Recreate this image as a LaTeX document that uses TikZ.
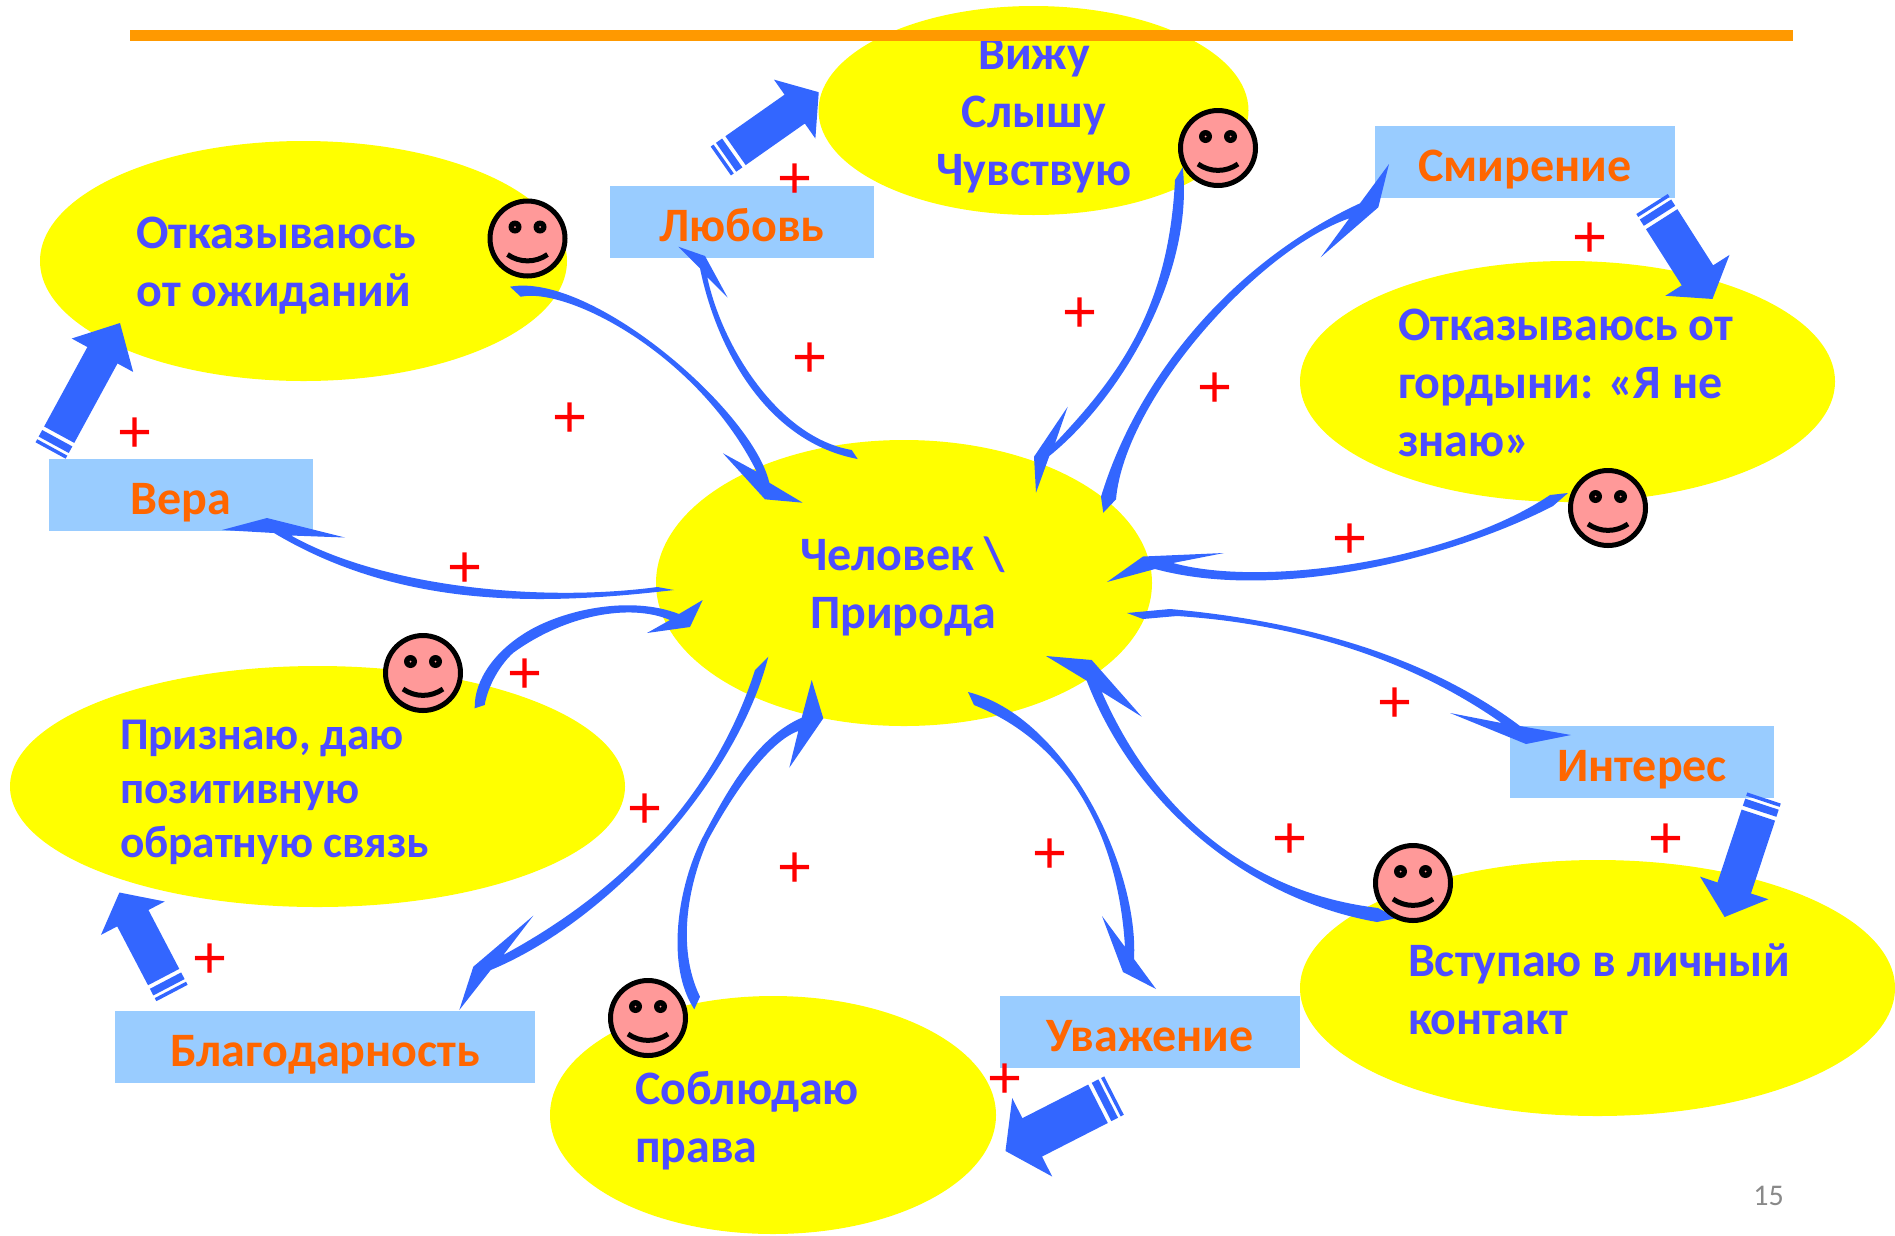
\documentclass[tikz,border=0pt]{standalone}
\usepackage{fontspec}
\setmainfont{Carlito}
\newfontfamily\plusfont{Liberation Sans}
\usepackage{xcolor}
\usetikzlibrary{shapes.geometric, positioning, calc}
\definecolor{flowblue}{HTML}{3366FF}
\definecolor{textblue}{HTML}{4D4DFF}
\definecolor{textorange}{HTML}{FF6600}
\definecolor{boxblue}{HTML}{99CCFF}
\definecolor{barorange}{HTML}{FF9900}
\definecolor{facepink}{HTML}{FF9999}
\definecolor{ovalyellow}{RGB}{255,255,0}
\definecolor{plusred}{RGB}{255,0,0}
\definecolor{pagegray}{HTML}{898989}
\tikzset{
  oval/.style={ellipse, fill=ovalyellow, inner sep=0pt, outer sep=0pt},
  virtue/.style={rectangle, fill=boxblue, inner sep=0pt, outer sep=0pt, text=textorange,
    font=\fontsize{48}{58}\selectfont\bfseries, text height=49pt, text depth=10pt},
  say/.style={text=textblue, inner sep=0pt, outer sep=0pt, align=left, anchor=base west,
    font=\fontsize{48}{58}\selectfont\bfseries},
  plusmark/.style={text=plusred, inner sep=0pt, yshift=-3.5pt, font=\fontsize{60}{60}\selectfont\plusfont},
  curvefill/.style={fill=flowblue},
  pics/smiley/.style={code={
    \node[circle, draw=black, fill=facepink, line width=5pt, minimum size=75pt, inner sep=0pt] (-disc) at (0,0) {};
    \fill[black] (-12.5,-11.5) circle[radius=6.5pt] (12.5,-11.5) circle[radius=6.5pt];
    \fill[facepink] (-12.5,-11.5) circle[radius=1pt] (12.5,-11.5) circle[radius=1pt];
    \draw[black, line width=5pt] (-20,16) .. controls (-8,24.5) and (8,24.5) .. (20,16);
  }},
  pics/stripebody/.style n args={3}{code={
    \pgfmathsetmacro\barLen{#1}
    \pgfmathsetmacro\neckAt{\barLen-#2}
    \pgfmathsetmacro\shaftHalf{0.49*#3}
    \fill[flowblue] (0,-\shaftHalf) rectangle (3.5,\shaftHalf);
    \fill[flowblue] (6.5,-\shaftHalf) rectangle (14,\shaftHalf);
    \fill[flowblue] (18,-\shaftHalf) -- (\neckAt,-\shaftHalf) -- (\neckAt,-#3) -- (\barLen,0)
      -- (\neckAt,#3) -- (\neckAt,\shaftHalf) -- (18,\shaftHalf) -- cycle;
  }}
}
\newcommand{\stripearrow}[4]{%
  \path let \p1=($(#2)-(#1)$), \n1={atan2(\y1,\x1)}, \n2={veclen(\x1,\y1)} in
    pic[rotate=\n1] at (#1) {stripebody={\n2}{#3}{#4}};}
\begin{document}
\begin{tikzpicture}[x=1pt, y=-1pt]
  \useasboundingbox (0,0) rectangle (1895,1235);

  \node[oval, minimum width=527pt, minimum height=240pt] (expect) at (303.5,261) {};
  \node[oval, minimum width=430pt, minimum height=209pt] (sense) at (1033.5,110.5) {};
  \node[oval, minimum width=535pt, minimum height=241pt] (pride) at (1567.5,381.5) {};
  \node[oval, minimum width=496pt, minimum height=286pt] (human) at (904,583) {};
  \node[oval, minimum width=615pt, minimum height=241pt] (praise) at (317.5,786.5) {};
  \node[oval, minimum width=446pt, minimum height=238pt] (rights) at (773,1115) {};
  \node[oval, minimum width=595pt, minimum height=256pt] (contact) at (1597.5,988) {};

  \node[virtue, minimum width=264pt, minimum height=72pt] (faith) at (181,495) {Вера};
  \node[virtue, minimum width=264pt, minimum height=72pt] (love) at (742,221.5) {Любовь};
  \node[virtue, minimum width=300pt, minimum height=72pt] (humility) at (1525,162) {Смирение};
  \node[virtue, minimum width=264pt, minimum height=72pt] (interest) at (1642,762) {Интерес};
  \node[virtue, minimum width=300pt, minimum height=72pt] (respect) at (1150,1031.5) {Уважение};
  \node[virtue, minimum width=420pt, minimum height=72pt] (thanks) at (325,1047) {Благодарность};

  \node[say] (expectText) at (136.5,306) {Отказываюсь\\от ожиданий};
  \node[say, align=center, anchor=base] (senseText) at (1034,185.5) {Вижу\\Слышу\\Чувствую};
  \node[say] (prideText) at (1398,456) {Отказываюсь от\\гордыни: «Я не\\знаю»};
  \node[say, align=center, anchor=base] (humanText) at (903,628) {Человек \textbackslash\\Природа};
  \node[say, font=\fontsize{45.4}{54}\selectfont\bfseries] (praiseText) at (120,857) {Признаю, даю\\позитивную\\обратную связь};
  \node[say] (rightsText) at (635,1162) {Соблюдаю\\права};
  \node[say] (contactText) at (1408,1034) {Вступаю в личный\\контакт};

  \coordinate (faithOut) at (50.6,450.5);
  \coordinate (expectIn) at (120,323);
  \stripearrow{faithOut}{expectIn}{36.7}{35}
  \coordinate (loveOut) at (720.8,161);
  \coordinate (senseIn) at (819,92);
  \stripearrow{loveOut}{senseIn}{29.4}{36}
  \coordinate (humilityOut) at (1652,204);
  \coordinate (prideIn) at (1712.5,299);
  \stripearrow{humilityOut}{prideIn}{28}{38}
  \coordinate (interestOut) at (1764,798);
  \coordinate (contactIn) at (1724.6,917);
  \stripearrow{interestOut}{contactIn}{30.6}{36}
  \coordinate (respectOut) at (1114,1095.6);
  \coordinate (rightsIn) at (1005.5,1151);
  \stripearrow{respectOut}{rightsIn}{30}{44}
  \coordinate (thanksOut) at (172,993);
  \coordinate (praiseIn) at (119.4,892.5);
  \stripearrow{thanksOut}{praiseIn}{29}{36}

  \coordinate (expectOut) at (510,286.7);
  \coordinate (humanFromExpect) at (802.7,502.7);
  \fill[curvefill] (expectOut) .. controls (591.9,271.9) and (752.9,410.9) .. (769.3,482.7)
    -- (humanFromExpect) -- (765,499.3) -- (723,453.3)
    -- (756.7,471.7) .. controls (698,354.3) and (568.3,287.1) .. (520.7,296.7) -- cycle;

  \coordinate (humanToLove) at (857.7,459);
  \coordinate (loveIn) at (678.3,246.7);
  \fill[curvefill] (humanToLove) .. controls (766.6,441.9) and (716.6,349.4) .. (700,268.3)
    -- (loveIn) -- (705,256) -- (727.7,297.7)
    -- (707.3,277.3) .. controls (722,346.4) and (778.5,437.4) .. (851.7,450) -- cycle;

  \coordinate (humanToFaith) at (674,590);
  \coordinate (faithIn) at (222,530);
  \fill[curvefill] (humanToFaith) .. controls (542.2,605.5) and (401.3,609) .. (274,533)
    -- (faithIn) -- (267,518) -- (345,537.5)
    -- (291,535.5) .. controls (381.7,586.4) and (539,602.8) .. (657.5,587) -- cycle;

  \coordinate (senseOut) at (1182.7,167.3);
  \coordinate (humanFromSense) at (1036,492.7);
  \fill[curvefill] (senseOut) .. controls (1194.2,269.5) and (1124.8,394.9) .. (1049.3,456)
    -- (humanFromSense) -- (1034,456.7) -- (1067.7,406.7)
    -- (1055,443.3) .. controls (1119.9,374.6) and (1168.6,308.3) .. (1175,180) -- cycle;

  \coordinate (humanToHumility) at (1103.3,512.7);
  \coordinate (humilityIn) at (1389,164);
  \fill[curvefill] (humanToHumility) -- (1101,496.7) .. controls (1136.3,379.9) and (1230.2,263.2) .. (1360,203.3)
    -- (humilityIn) -- (1378.3,207.3) -- (1320.7,257.3)
    -- (1349.3,218.3) .. controls (1257.6,250) and (1124.8,399.2) .. (1116,499.3) -- cycle;

  \coordinate (prideOut) at (1568,493);
  \coordinate (humanFromPride) at (1107,582);
  \fill[curvefill] (prideOut) -- (1553,506) .. controls (1451.8,558.5) and (1277.2,602) .. (1155,569)
    -- (humanFromPride) -- (1143,556.5) -- (1224,553)
    -- (1173,563) .. controls (1264.2,588.3) and (1454.3,559.7) .. (1550,495) -- cycle;

  \coordinate (humanToInterest) at (1127,613);
  \coordinate (interestIn) at (1571,735);
  \fill[curvefill] (humanToInterest) -- (1170,609) .. controls (1286.7,619.5) and (1418.3,649.5) .. (1520,726)
    -- (interestIn) -- (1526,744) -- (1450,713)
    -- (1501.5,723) .. controls (1406.1,655.8) and (1289.7,623.2) .. (1177,616) -- (1143,619) -- cycle;

  \coordinate (contactOut) at (1397,918);
  \coordinate (humanFromContact) at (1046,656);
  \fill[curvefill] (contactOut) -- (1377,922) .. controls (1251.7,900.1) and (1135.9,808.1) .. (1086.7,680.7)
    -- (humanFromContact) -- (1091.7,660) -- (1141.7,716.7)
    -- (1101.7,691.7) .. controls (1156.7,816.8) and (1252.9,892.9) .. (1378,908) -- cycle;

  \coordinate (humanToRespect) at (968,692);
  \coordinate (respectIn) at (1156,989);
  \fill[curvefill] (humanToRespect) .. controls (1067,717) and (1139,869) .. (1134,959)
    -- (respectIn) -- (1123,972) -- (1102,916)
    -- (1125,947) .. controls (1118.5,839) and (1071.5,744) .. (974,705) -- cycle;

  \coordinate (rightsOut) at (694.3,1009.3);
  \coordinate (humanFromRights) at (811.7,680);
  \fill[curvefill] (rightsOut) .. controls (665,965) and (678,885) .. (703,836.7)
    .. controls (725,795) and (755,738) .. (801.7,717.7)
    -- (humanFromRights) -- (823.3,718.3) -- (789.3,767.7)
    -- (798.3,731) .. controls (770,741) and (735,790) .. (708,840)
    .. controls (690,880) and (675,945) .. (700,996.7) -- cycle;

  \coordinate (humanToThanks) at (768.3,656.7);
  \coordinate (thanksIn) at (459.3,1010);
  \fill[curvefill] (humanToThanks) .. controls (738.3,776.6) and (612.2,919.6) .. (490.7,970)
    -- (thanksIn) -- (473.3,966.7) -- (533.3,915.7)
    -- (503.3,955) .. controls (621.3,891.5) and (714.6,796.5) .. (755,670) -- cycle;

  \coordinate (praiseOut) at (474.7,708.3);
  \coordinate (humanFromPraise) at (702.7,600);
  \fill[curvefill] (praiseOut) .. controls (474,680) and (495,650) .. (530,630)
    .. controls (565,610) and (630,595) .. (679,614)
    -- (humanFromPraise) -- (690,627) -- (647,633)
    -- (670,620) .. controls (630,603) and (565,615) .. (513,653)
    .. controls (497,668) and (487,690) .. (484.7,705) -- cycle;

  \pic (faceExpect) at (527.5,238.5) {smiley};
  \pic (faceSense) at (1218,148) {smiley};
  \pic (facePride) at (1608,508) {smiley};
  \pic (facePraise) at (423,673) {smiley};
  \pic (faceRights) at (648,1018) {smiley};
  \pic (faceContact) at (1413,883) {smiley};

  \node[plusmark] (plusA) at (135,432) {+};
  \node[plusmark] (plusB) at (570,417) {+};
  \node[plusmark] (plusC) at (465,567) {+};
  \node[plusmark] (plusD) at (810,357) {+};
  \node[plusmark] (plusE) at (795,177.5) {+};
  \node[plusmark] (plusF) at (1080,312) {+};
  \node[plusmark] (plusG) at (1215,387) {+};
  \node[plusmark] (plusH) at (1590,237) {+};
  \node[plusmark] (plusI) at (1350,538) {+};
  \node[plusmark] (plusJ) at (525,672.5) {+};
  \node[plusmark] (plusK) at (645,807.5) {+};
  \node[plusmark] (plusL) at (795,867) {+};
  \node[plusmark] (plusM) at (210,958) {+};
  \node[plusmark] (plusN) at (1395,702) {+};
  \node[plusmark] (plusO) at (1290,838) {+};
  \node[plusmark] (plusP) at (1665.5,838) {+};
  \node[plusmark] (plusQ) at (1050,852.5) {+};
  \node[plusmark] (plusR) at (1005,1077.6) {+};

  \node[text=pagegray, inner sep=0pt, anchor=base, font=\fontsize{30}{36}\selectfont] (pageNum) at (1768.5,1205) {15};
  \fill[barorange] (130,30) rectangle (1793,41);
\end{tikzpicture}
\end{document}
